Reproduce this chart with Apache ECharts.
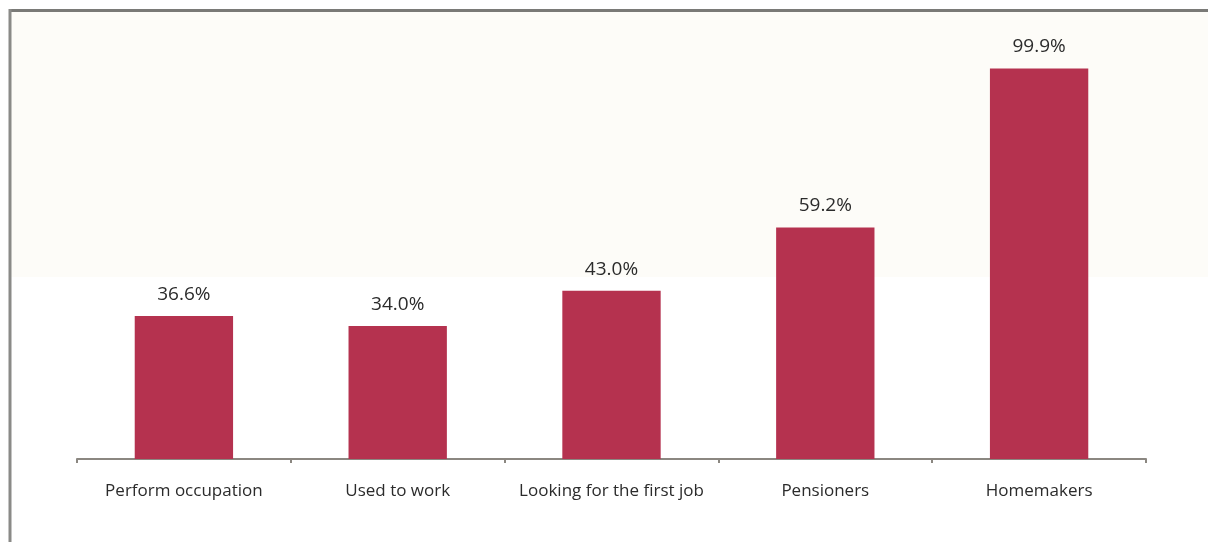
<!DOCTYPE html>
<html>
<head>
<meta charset="utf-8">
<script src="https://cdn.jsdelivr.net/npm/echarts@6/dist/echarts.min.js"></script>
<style>
  html, body { margin: 0; padding: 0; background: #ffffff; }
  #chart { width: 1208px; height: 542px; }
</style>
</head>
<body>
<div id="chart"></div>
<script>
// Share of each group, in percent
const categories = ['Perform occupation', 'Used to work', 'Looking for the first job', 'Pensioners', 'Homemakers'];
const shares = [36.6, 34.0, 43.0, 59.2, 99.9];

const chart = echarts.init(document.getElementById('chart'), null, { renderer: 'canvas' });

const FONT = '"Open Sans", "Noto Sans", sans-serif';

chart.setOption({
  animation: false,
  backgroundColor: '#ffffff',
  graphic: [
    // pale cream panel in the upper part of the frame
    { type: 'rect', z: -10, silent: true,
      shape: { x: 11, y: 12, width: 1197, height: 265 },
      style: { fill: '#fdfcf8' } },
    // frame: top and left edges
    { type: 'line', z: 10, silent: true,
      shape: { x1: 10, y1: 10.5, x2: 1208, y2: 10.5 },
      style: { stroke: '#7a7a77', lineWidth: 3 } },
    { type: 'line', z: 10, silent: true,
      shape: { x1: 10, y1: 9, x2: 10, y2: 542 },
      style: { stroke: '#8a8a87', lineWidth: 3 } }
  ],
  grid: { left: 77, right: 62, top: 68, bottom: 83, containLabel: false },
  xAxis: {
    type: 'category',
    data: categories,
    boundaryGap: true,
    axisLine: { show: true, lineStyle: { color: '#8b8781', width: 2 } },
    axisTick: { show: true, interval: 0, length: 4, inside: false, alignWithLabel: false,
                lineStyle: { color: '#8b8781', width: 2 } },
    axisLabel: { interval: 0, color: '#2b2b2b', fontFamily: FONT, fontSize: 17, margin: 24 },
    splitLine: { show: false }
  },
  yAxis: {
    type: 'value',
    min: 0,
    max: 100,
    show: false,
    splitLine: { show: false }
  },
  series: [{
    type: 'bar',
    data: shares,
    barWidth: '46%',
    itemStyle: { color: '#b5324f' },
    label: {
      show: true,
      position: 'top',
      distance: 12,
      color: '#2b2b2b',
      fontFamily: FONT,
      fontSize: 19,
      formatter: p => p.value.toFixed(1) + '%'
    }
  }]
});
</script>
</body>
</html>
